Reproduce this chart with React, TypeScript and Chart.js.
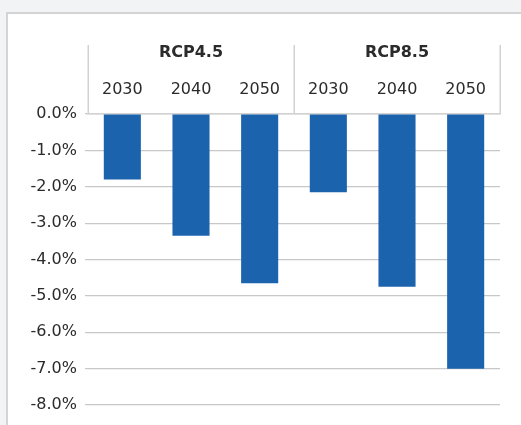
import React, { useEffect, useRef } from "react";
import { Chart, registerables } from "chart.js";

Chart.register(...registerables);

const years = ["2030", "2040", "2050", "2030", "2040", "2050"];
const groups = ["RCP4.5", "RCP8.5"];
const values = [-1.8, -3.35, -4.65, -2.15, -4.75, -7.0];
const yMin = -8;
const yMax = 0;
const yStep = 1;

const FONT = "'DejaVu Sans', sans-serif";

const panelPlugin = {
  id: "panelBackground",
  beforeDraw(chart: any) {
    const ctx = chart.ctx;
    const w = chart.width;
    const h = chart.height;
    ctx.save();
    ctx.fillStyle = "#f2f3f5";
    ctx.fillRect(0, 0, w, h);
    ctx.fillStyle = "#d4d4d4";
    ctx.fillRect(6, 12, w - 6, h - 12);
    ctx.fillStyle = "#ffffff";
    ctx.fillRect(8, 14, w - 8, h - 14);
    ctx.restore();
  },
};

const separatorPlugin = {
  id: "groupSeparators",
  afterDraw(chart: any) {
    const x = chart.scales.x;
    const n = years.length;
    const per = n / groups.length;
    const ctx = chart.ctx;
    const top = chart.chartArea.top;
    const step = (x.right - x.left) / n;
    ctx.save();
    ctx.strokeStyle = "#d2d2d2";
    ctx.lineWidth = 1.5;
    for (let g = 0; g <= groups.length; g++) {
      const px = Math.round(x.left + step * per * g) + 0.25;
      ctx.beginPath();
      ctx.moveTo(px, top - 69);
      ctx.lineTo(px, top);
      ctx.stroke();
    }
    ctx.restore();
  },
};

export default function App() {
  const ref = useRef<HTMLCanvasElement>(null);
  useEffect(() => {
    document.body.style.margin = "0";
    document.body.style.overflow = "hidden";
    const chart = new Chart(ref.current!, {
      type: "bar",
      data: {
        labels: years,
        datasets: [
          {
            data: values,
            backgroundColor: "#1c63ae",
            borderWidth: 0,
            barPercentage: 0.54,
            categoryPercentage: 1,
          },
        ],
      },
      options: {
        animation: false,
        responsive: false,
        layout: { padding: { left: 0, right: 21, top: 0, bottom: 20 } },
        plugins: { legend: { display: false }, tooltip: { enabled: false } },
        scales: {
          x: {
            type: "category",
            position: "top",
            weight: 0,
            grid: { display: false },
            border: { display: true, color: "#d2d2d2", width: 1.5 },
            ticks: { color: "#2b2b2b", font: { family: FONT, size: 16 }, padding: 7, maxRotation: 0 },
            afterFit: (s: any) => {
              s.height = 44;
            },
          },
          x2: {
            type: "category",
            position: "top",
            weight: 1,
            labels: groups,
            grid: { display: false },
            border: { display: false },
            ticks: { color: "#2b2b2b", font: { family: FONT, size: 16, weight: "bold" }, padding: 0, maxRotation: 0 },
            afterFit: (s: any) => {
              s.height = 70;
            },
          },
          y: {
            min: yMin,
            max: yMax,
            grid: { color: "#c8c8c8", lineWidth: 1.2, tickLength: 3, drawTicks: true },
            border: { display: false },
            ticks: {
              stepSize: yStep,
              padding: 8,
              color: "#2b2b2b",
              font: { family: FONT, size: 16 },
              callback: (v: any) => (Math.abs(v) < 1e-9 ? 0 : v).toFixed(1) + "%",
            },
            afterFit: (s: any) => {
              s.width = 88;
            },
          },
        },
      },
      plugins: [panelPlugin, separatorPlugin],
    });
    return () => chart.destroy();
  }, []);

  return (
    <canvas ref={ref} width={521} height={425} style={{ position: "fixed", left: 0, top: 0, display: "block" }} />
  );
}
